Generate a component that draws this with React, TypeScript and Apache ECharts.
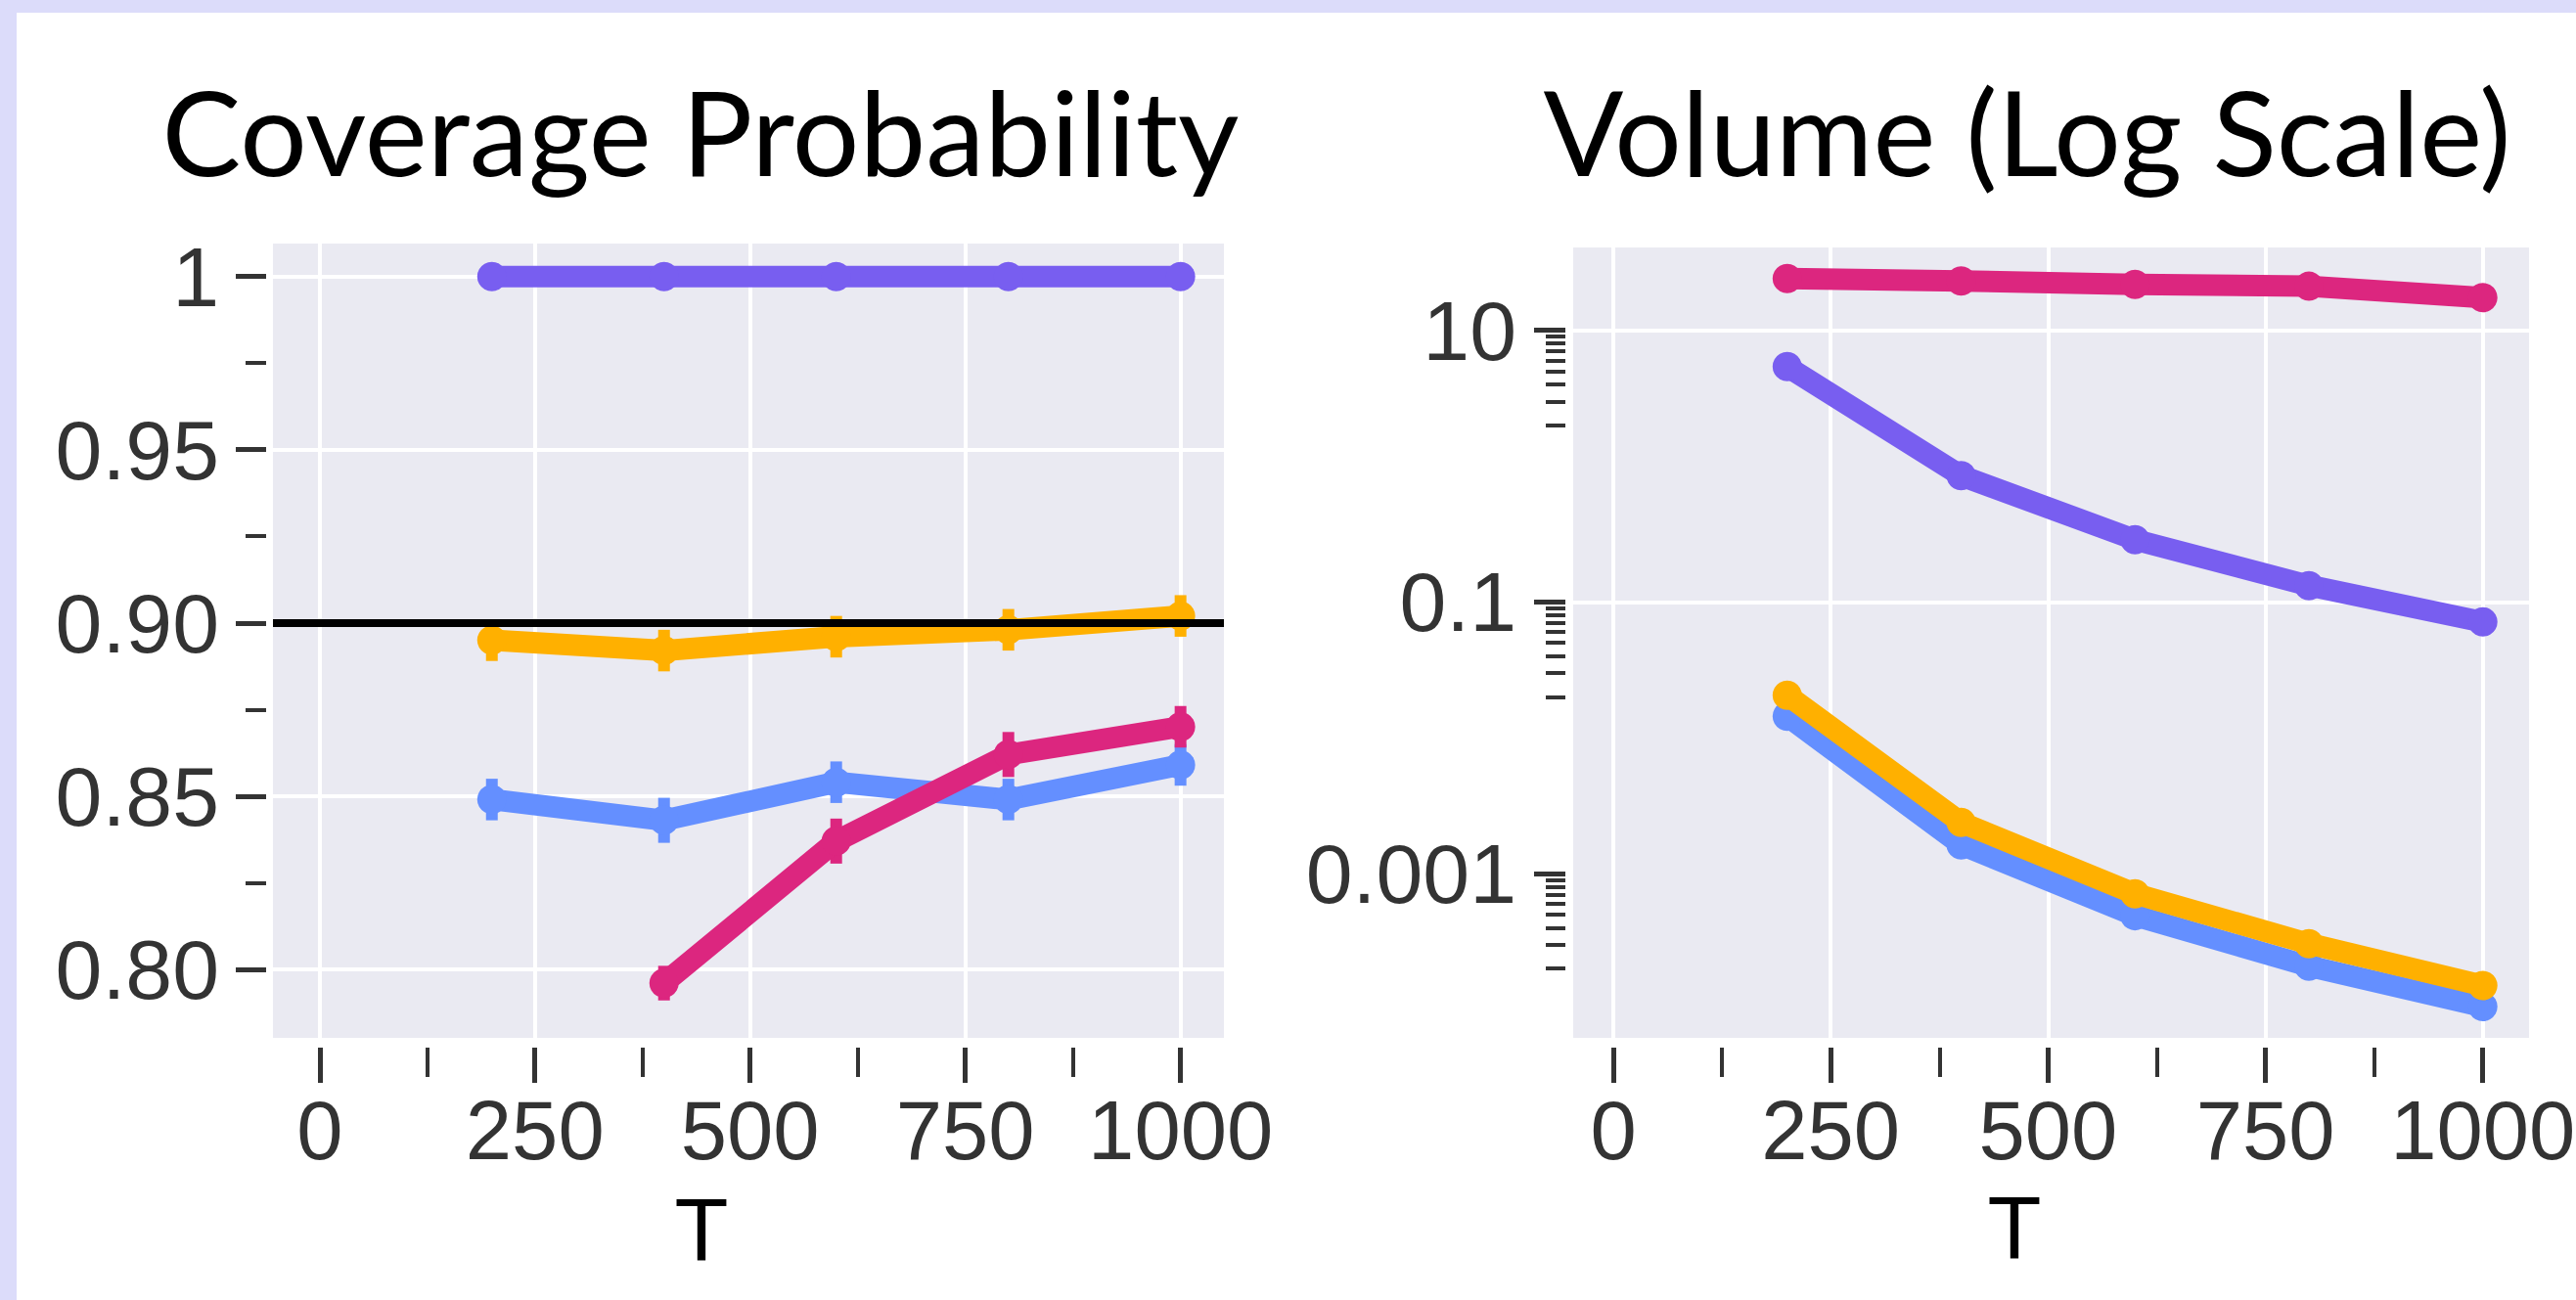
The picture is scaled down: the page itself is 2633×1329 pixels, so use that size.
import React, { useEffect, useRef } from "react";
import * as echarts from "echarts";

// ---------- data ----------
const tValues = [200, 400, 600, 800, 1000];
const xTicks = [0, 250, 500, 750, 1000];
const xTickLabels = ["0", "250", "500", "750", "1000"];
const xMinorTicks = [125, 375, 625, 875];

const covTicks = [0.8, 0.85, 0.9, 0.95, 1.0];
const covTickLabels = ["0.80", "0.85", "0.90", "0.95", "1"];
const covMinorTicks = [0.825, 0.875, 0.925, 0.975];
const covTarget = 0.9;

const covPurple = [1, 1, 1, 1, 1];
const covBlue = [0.849, 0.843, 0.854, 0.849, 0.859];
const covOrange = [0.895, 0.892, 0.896, 0.898, 0.902];
const covMagenta = [null, 0.796, 0.837, 0.862, 0.87];
const covBlueErr = [0.006, 0.0065, 0.006, 0.006, 0.006];
const covOrangeErr = [0.006, 0.006, 0.006, 0.006, 0.006];
const covMagentaErr = [null, 0.005, 0.0065, 0.0065, 0.006];

const volTicks = [10, 0.1, 0.001];
const volTickLabels = ["10", "0.1", "0.001"];
const volMinorTicks = [
  2, 3, 4, 5, 6, 7, 8, 9,
  0.02, 0.03, 0.04, 0.05, 0.06, 0.07, 0.08, 0.09,
  0.0002, 0.0003, 0.0004, 0.0005, 0.0006, 0.0007, 0.0008, 0.0009,
];
const volMagenta = [24, 23.1, 21.8, 21.1, 17.4];
const volPurple = [5.4, 0.85, 0.287, 0.132, 0.0714];
const volOrange = [0.0206, 0.00238, 0.00071, 0.000305, 0.00015];
const volBlue = [0.0144, 0.00163, 0.00049, 0.000208, 0.000105];

const titleLeft = "Coverage Probability";
const titleRight = "Volume (Log Scale)";
const xName = "T";

// ---------- styles ----------
const PURPLE = "#785ef0";
const BLUE = "#648fff";
const ORANGE = "#ffb000";
const MAGENTA = "#dc267f";
const TICK = "#333333";
const LABEL_FONT = "'Liberation Sans', Arial, sans-serif";
const TITLE_FONT = "Lato, 'Open Sans', sans-serif";

function labelFor(ticks: number[], labels: string[]) {
  return (v: number) => {
    const i = ticks.findIndex((t) => Math.abs(t - v) <= Math.abs(t) * 1e-6 + 1e-12);
    return i >= 0 ? labels[i] : "";
  };
}

function xAxisMajor(gridIndex: number, min: number, max: number) {
  return {
    type: "value",
    gridIndex,
    min,
    max,
    position: "bottom",
    offset: 10,
    axisLine: { show: false, onZero: false },
    axisTick: { show: true, customValues: xTicks, length: 36, lineStyle: { color: TICK, width: 5 } },
    axisLabel: {
      show: true,
      customValues: xTicks,
      formatter: labelFor(xTicks, xTickLabels),
      fontSize: 85,
      lineHeight: 85,
      fontFamily: LABEL_FONT,
      color: TICK,
      margin: 42,
    },
    splitLine: { show: false },
    minorTick: { show: false },
    minorSplitLine: { show: false },
  };
}

function xAxisMinor(gridIndex: number, min: number, max: number) {
  return {
    type: "value",
    gridIndex,
    min,
    max,
    position: "bottom",
    offset: 10,
    axisLine: { show: false, onZero: false },
    axisTick: { show: true, customValues: xMinorTicks, length: 30, lineStyle: { color: TICK, width: 4 } },
    axisLabel: { show: false },
    splitLine: { show: false },
  };
}

function pairs(vals: (number | null)[]) {
  const out: number[][] = [];
  tValues.forEach((t, i) => {
    const v = vals[i];
    if (v != null) out.push([t, v]);
  });
  return out;
}

function lineSeries(name: string, vals: (number | null)[], color: string, axisIdx: number, z: number) {
  return {
    name,
    type: "line",
    xAxisIndex: axisIdx,
    yAxisIndex: axisIdx,
    data: pairs(vals),
    z,
    symbol: "circle",
    symbolSize: 30,
    showSymbol: true,
    lineStyle: { color, width: 22, cap: "round", join: "round" },
    itemStyle: { color },
    emphasis: { disabled: true },
    silent: true,
  };
}

function errSeries(vals: (number | null)[], errs: (number | null)[], color: string, z: number) {
  const data: number[][] = [];
  tValues.forEach((t, i) => {
    const v = vals[i];
    const e = errs[i];
    if (v != null && e != null) data.push([t, v, e]);
  });
  return {
    type: "custom",
    xAxisIndex: 0,
    yAxisIndex: 0,
    z,
    silent: true,
    data,
    renderItem: (_p: any, api: any) => {
      const x = api.value(0);
      const y = api.value(1);
      const e = api.value(2);
      const a = api.coord([x, y - e]);
      const b = api.coord([x, y + e]);
      return {
        type: "line",
        shape: { x1: a[0], y1: a[1], x2: b[0], y2: b[1] },
        style: { stroke: color, lineWidth: 12 },
      };
    },
  };
}

function gridLineSeries(axisIdx: number, yVals: number[]) {
  return {
    type: "line",
    xAxisIndex: axisIdx,
    yAxisIndex: axisIdx,
    data: [],
    z: 1,
    silent: true,
    markLine: {
      z: 1,
      silent: true,
      symbol: ["none", "none"],
      label: { show: false },
      emphasis: { disabled: true },
      lineStyle: { color: "#ffffff", width: 4, type: "solid", opacity: 1 },
      data: [...xTicks.map((v) => ({ xAxis: v })), ...yVals.map((v) => ({ yAxis: v }))],
    },
  };
}

export default function App() {
  const ref = useRef<HTMLDivElement>(null);

  useEffect(() => {
    if (!ref.current) return;
    const chart = echarts.init(ref.current, null, { renderer: "svg" });

    const leftXMin = -54.3;
    const leftXMax = 1050.4;
    const rightXMin = -46.2;
    const rightXMax = 1053.2;

    const option: any = {
      animation: false,
      backgroundColor: "transparent",
      textStyle: { fontFamily: LABEL_FONT },
      grid: [
        {
          left: 279,
          top: 249,
          width: 972,
          height: 812,
          show: true,
          backgroundColor: "#eaeaf2",
          borderWidth: 0,
          containLabel: false,
          outerBoundsMode: "none",
        },
        {
          left: 1608,
          top: 253,
          width: 977,
          height: 808,
          show: true,
          backgroundColor: "#eaeaf2",
          borderWidth: 0,
          containLabel: false,
          outerBoundsMode: "none",
        },
      ],
      xAxis: [
        xAxisMajor(0, leftXMin, leftXMax),
        xAxisMinor(0, leftXMin, leftXMax),
        xAxisMajor(1, rightXMin, rightXMax),
        xAxisMinor(1, rightXMin, rightXMax),
      ],
      yAxis: [
        {
          type: "value",
          gridIndex: 0,
          min: 0.7802,
          max: 1.0095,
          position: "left",
          offset: 7,
          axisLine: { show: false, onZero: false },
          axisTick: { show: true, customValues: covTicks, length: 31, lineStyle: { color: TICK, width: 5 } },
          axisLabel: {
            show: true,
            customValues: covTicks,
            formatter: labelFor(covTicks, covTickLabels),
            fontSize: 86,
            lineHeight: 86,
            fontFamily: LABEL_FONT,
            color: TICK,
            margin: 48,
          },
          splitLine: { show: false },
        },
        {
          type: "value",
          gridIndex: 0,
          min: 0.7802,
          max: 1.0095,
          position: "left",
          offset: 7,
          axisLine: { show: false, onZero: false },
          axisTick: { show: true, customValues: covMinorTicks, length: 21, lineStyle: { color: TICK, width: 4 } },
          axisLabel: { show: false },
          splitLine: { show: false },
        },
        {
          type: "log",
          logBase: 10,
          gridIndex: 1,
          min: 6.18e-5,
          max: 40.7,
          position: "left",
          offset: 8,
          axisLine: { show: false, onZero: false },
          axisTick: { show: true, customValues: volTicks, length: 32, lineStyle: { color: TICK, width: 5 } },
          axisLabel: {
            show: true,
            customValues: volTicks,
            formatter: labelFor(volTicks, volTickLabels),
            fontSize: 86,
            lineHeight: 86,
            fontFamily: LABEL_FONT,
            color: TICK,
            margin: 50,
          },
          splitLine: { show: false },
          minorTick: { show: false },
          minorSplitLine: { show: false },
        },
        {
          type: "log",
          logBase: 10,
          gridIndex: 1,
          min: 6.18e-5,
          max: 40.7,
          position: "left",
          offset: 8,
          axisLine: { show: false, onZero: false },
          axisTick: { show: true, customValues: volMinorTicks, length: 20, lineStyle: { color: TICK, width: 4 } },
          axisLabel: { show: false },
          splitLine: { show: false },
        },
      ],
      graphic: [
        {
          type: "text",
          x: 716,
          y: 133,
          silent: true,
          style: { text: titleLeft, font: `121px ${TITLE_FONT}`, fill: "#000", align: "center", verticalAlign: "middle" },
        },
        {
          type: "text",
          x: 2072,
          y: 133,
          silent: true,
          style: { text: titleRight, font: `121px ${TITLE_FONT}`, fill: "#000", align: "center", verticalAlign: "middle" },
        },
        {
          type: "text",
          x: 717,
          y: 1258,
          silent: true,
          style: { text: xName, font: `90px ${LABEL_FONT}`, lineHeight: 68, fill: "#000", align: "center", verticalAlign: "middle" },
        },
        {
          type: "text",
          x: 2059,
          y: 1256,
          silent: true,
          style: { text: xName, font: `90px ${LABEL_FONT}`, lineHeight: 68, fill: "#000", align: "center", verticalAlign: "middle" },
        },
      ],
      series: [
        gridLineSeries(0, covTicks),
        gridLineSeries(2, volTicks),
        // left panel
        lineSeries("purple", covPurple, PURPLE, 0, 2),
        lineSeries("blue", covBlue, BLUE, 0, 3),
        errSeries(covBlue, covBlueErr, BLUE, 3),
        lineSeries("orange", covOrange, ORANGE, 0, 4),
        errSeries(covOrange, covOrangeErr, ORANGE, 4),
        lineSeries("magenta", covMagenta, MAGENTA, 0, 5),
        errSeries(covMagenta, covMagentaErr, MAGENTA, 5),
        {
          type: "line",
          xAxisIndex: 0,
          yAxisIndex: 0,
          data: [],
          z: 10,
          silent: true,
          markLine: {
            z: 10,
            silent: true,
            symbol: ["none", "none"],
            label: { show: false },
            emphasis: { disabled: true },
            lineStyle: { color: "#000000", width: 8, type: "solid", opacity: 1 },
            data: [{ yAxis: covTarget }],
          },
        },
        // right panel
        lineSeries("purple", volPurple, PURPLE, 2, 2),
        lineSeries("blue", volBlue, BLUE, 2, 3),
        lineSeries("orange", volOrange, ORANGE, 2, 4),
        lineSeries("magenta", volMagenta, MAGENTA, 2, 5),
      ],
    };

    chart.setOption(option);
    return () => chart.dispose();
  }, []);

  return (
    <div style={{ position: "fixed", left: 0, top: 0, width: 2633, height: 1329, background: "#dcdcfa" }}>
      <div style={{ position: "absolute", left: 17, top: 13, right: 0, bottom: 0, background: "#ffffff" }} />
      <div ref={ref} style={{ position: "absolute", left: 0, top: 0, width: 2633, height: 1329 }} />
    </div>
  );
}
